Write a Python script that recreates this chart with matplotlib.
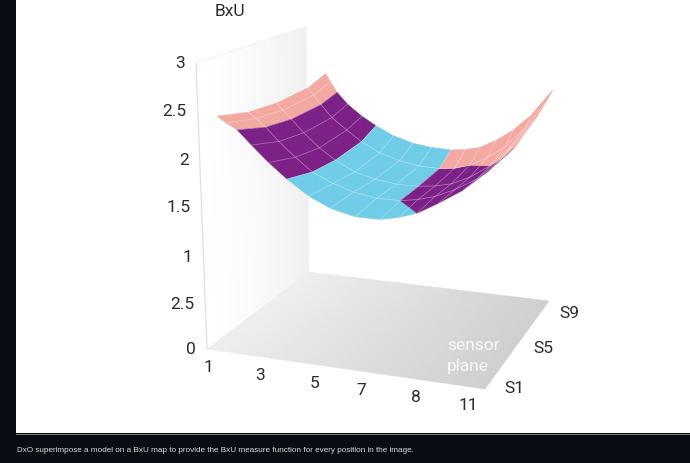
import matplotlib
matplotlib.use('Agg')
import matplotlib.pyplot as plt
from matplotlib.collections import PolyCollection
import numpy as np

plt.rcParams.update({
    'font.family': 'Roboto',
    'font.size': 12.5,
})

# axis values and the labels as printed on the picture
z_ticks = [0, 0.51, 1.02, 1.55, 2.03, 2.53, 3]
z_labels = ['0', '2.5', '1', '1.5', '2', '2.5', '3']
x_ticks = [1, 3, 5, 6.7, 8.6, 10.4]
x_labels = ['1', '3', '5', '7', '8', '11']
s_ticks = [1.6, 5, 8.4]
s_labels = ['S1', 'S5', 'S9']

# surface: x position of each column on the S1 and S9 sides, z on the rows in surf_s
surf_s = [1, 3, 5, 7.5, 9]
x_s1 = [1.7, 2.0, 2.4, 2.9, 3.5, 4.14, 4.9, 5.64, 6.5, 7.36, 8.0, 8.6, 9.3, 10.09, 10.9, 11.69]
x_s9 = [1.8, 2.0, 2.27, 2.7, 3.3, 3.88, 4.6, 5.4, 6.15, 6.93, 7.5, 8.07, 8.7, 9.33, 10.0, 10.77]
z_s1 = [2.49, 2.43, 2.37, 2.23, 2.07, 1.92, 1.77, 1.67, 1.61, 1.61, 1.65, 1.71, 1.83, 1.98, 2.19, 2.43]
z_s3 = [2.40, 2.34, 2.26, 2.12, 1.97, 1.83, 1.73, 1.66, 1.62, 1.62, 1.65, 1.70, 1.79, 1.92, 2.14, 2.43]
z_s5 = [2.37, 2.30, 2.21, 2.07, 1.92, 1.80, 1.69, 1.63, 1.60, 1.60, 1.62, 1.66, 1.75, 1.89, 2.13, 2.42]
z_s7 = [2.39, 2.31, 2.21, 2.07, 1.94, 1.82, 1.71, 1.64, 1.60, 1.59, 1.61, 1.66, 1.76, 1.90, 2.12, 2.44]
z_s9 = [2.47, 2.38, 2.26, 2.13, 2.00, 1.90, 1.80, 1.73, 1.70, 1.69, 1.71, 1.75, 1.85, 1.98, 2.17, 2.47]

caption = 'DxO superimpose a model on a BxU map to provide the BxU measure function for every position in the image.'

PINK = '#F3A9A1'
PURPLE = '#7D2188'
CYAN = '#71CCE7'
DARK = '#0A0C14'

# camera fitted on the floor and wall corners of the picture
CAM = np.array([[245.53, 156.44, -24.31, 207.0],
                [13.96, -29.08, -290.28, 349.0],
                [-0.06694, 0.17618, -0.0679, 1.0]])


def project(x, s, z):
    x, s, z = np.atleast_1d(x, s, z)
    pts = np.stack([(x - 1) / 10, (s - 1) / 8, z / 3, np.ones_like(x * 1.0)])
    px, py, w = CAM @ pts
    return px / w, py / w


x_front = np.array(x_s1)
x_back = np.array(x_s9)
z_grid = np.array([z_s1, z_s3, z_s5, z_s7, z_s9])
x_grid = np.array([x_front + (x_back - x_front) * (s - 1) / 8 for s in surf_s])
s_grid = np.array([[s] * len(x_s1) for s in surf_s], dtype=float)
last_c = len(x_s1) - 1
last_r = len(surf_s) - 1


def outline(idx):
    cols = [i[0] for i in idx]
    rows = [i[1] for i in idx]
    return project(x_grid[rows, cols], s_grid[rows, cols], z_grid[rows, cols])


def block(c0, c1):
    # outline of the whole strip between two columns
    idx = [(c, 0) for c in range(c0, c1 + 1)]
    idx += [(c1, r) for r in range(1, last_r + 1)]
    idx += [(c, last_r) for c in range(c1 - 1, c0 - 1, -1)]
    idx += [(c0, r) for r in range(last_r - 1, 0, -1)]
    return idx


fig = plt.figure(figsize=(6.9, 4.63), dpi=100, facecolor=DARK)
ax = fig.add_axes([0, 0, 1, 1])
ax.set_xlim(0, 690)
ax.set_ylim(463, 0)
ax.axis('off')

ax.fill([16, 690, 690, 16], [0, 0, 433, 433], color='white', lw=0, zorder=0)
ax.plot([16, 690], [433.5, 433.5], color='#777777', lw=0.8, zorder=0)

# back wall and floor, shaded in thin strips
n = 60
wall_s = np.linspace(1, 9, n + 1)
wall_polys, wall_cols = [], []
for i in range(n):
    xs, ys = project([1, 1, 1, 1], [wall_s[i], wall_s[i + 1], wall_s[i + 1], wall_s[i]], [0, 0, 3, 3])
    wall_polys.append(np.column_stack([xs, ys]))
    g = 1 - 0.06 * (i / n) ** 1.3
    wall_cols.append((g, g, g))
ax.add_collection(PolyCollection(wall_polys, facecolors=wall_cols, edgecolors=wall_cols, linewidths=0.3, zorder=1))

floor_x = np.linspace(1, 11, n + 1)
floor_polys, floor_cols = [], []
for i in range(n):
    xs, ys = project([floor_x[i], floor_x[i + 1], floor_x[i + 1], floor_x[i]], [1, 1, 9, 9], [0, 0, 0, 0])
    floor_polys.append(np.column_stack([xs, ys]))
    g = 0.935 - 0.125 * i / n
    floor_cols.append((g, g, g))
ax.add_collection(PolyCollection(floor_polys, facecolors=floor_cols, edgecolors=floor_cols, linewidths=0.3, zorder=2))

xs, ys = project([1, 1], [1, 1], [0, 3])
ax.plot(xs, ys, color='#e0e0e0', lw=0.9, zorder=2)
xs, ys = project([1, 1], [1, 9], [3, 3])
ax.plot(xs, ys, color='#f3f3f3', lw=0.8, zorder=2)

# surface colour regions
pink_left = block(0, 2)
purple_left = block(2, 5)
sweep = [(9, 3), (10, 3), (11, 3), (13, 2), (14, 1), (15, 0)]
cyan = [(c, 0) for c in range(5, 12)] + [(9, 1), (9, 2), (9, 3), (9, 4)] + \
       [(c, 4) for c in range(8, 4, -1)] + [(5, 3), (5, 2), (5, 1)]
purple_right = [(c, 0) for c in range(11, 16)] + sweep[::-1][1:] + [(9, 2), (9, 1)]
pink_right = sweep + [(15, r) for r in range(1, 5)] + [(c, 4) for c in range(14, 8, -1)]

for idx, col in [(pink_left, PINK), (purple_left, PURPLE), (cyan, CYAN),
                 (purple_right, PURPLE), (pink_right, PINK)]:
    xs, ys = outline(idx)
    ax.fill(xs, ys, facecolor=col, edgecolor=col, lw=0.3, zorder=3)

# wireframe
for c in range(1, last_c):
    xs, ys = project(x_grid[:, c], s_grid[:, c], z_grid[:, c])
    ax.plot(xs, ys, color='white', lw=0.55, alpha=0.35, zorder=4)
for r in range(1, last_r):
    xs, ys = project(x_grid[r], s_grid[r], z_grid[r])
    ax.plot(xs, ys, color='white', lw=0.55, alpha=0.4, zorder=4)

# tick labels
txt = '#2b2b2b'
for v, lab in zip(z_ticks, z_labels):
    xs, ys = project(1, 1, v)
    ax.text(xs[0] - 11, ys[0] + 1, lab, ha='right', va='center', color=txt)
for v, lab in zip(x_ticks, x_labels):
    xs, ys = project(v, 1, 0)
    ax.text(xs[0] + 1, ys[0] + 19, lab, ha='center', va='center', color=txt)
for v, lab in zip(s_ticks, s_labels):
    xs, ys = project(11, v, 0)
    ax.text(xs[0] + 24, ys[0] + 7, lab, ha='center', va='center', color=txt)

ax.text(230, 12, 'BxU', ha='center', va='center', color=txt)
ax.text(447, 346, 'sensor', ha='left', va='center', color='#f6f6f6', zorder=5)
ax.text(447, 366, 'plane', ha='left', va='center', color='#f6f6f6', zorder=5)
ax.text(17, 450, caption, ha='left', va='center', fontsize=5.9, color='#dedede',
        family='Liberation Sans')

fig.savefig('out.png', dpi=100, facecolor=DARK)
plt.close()
